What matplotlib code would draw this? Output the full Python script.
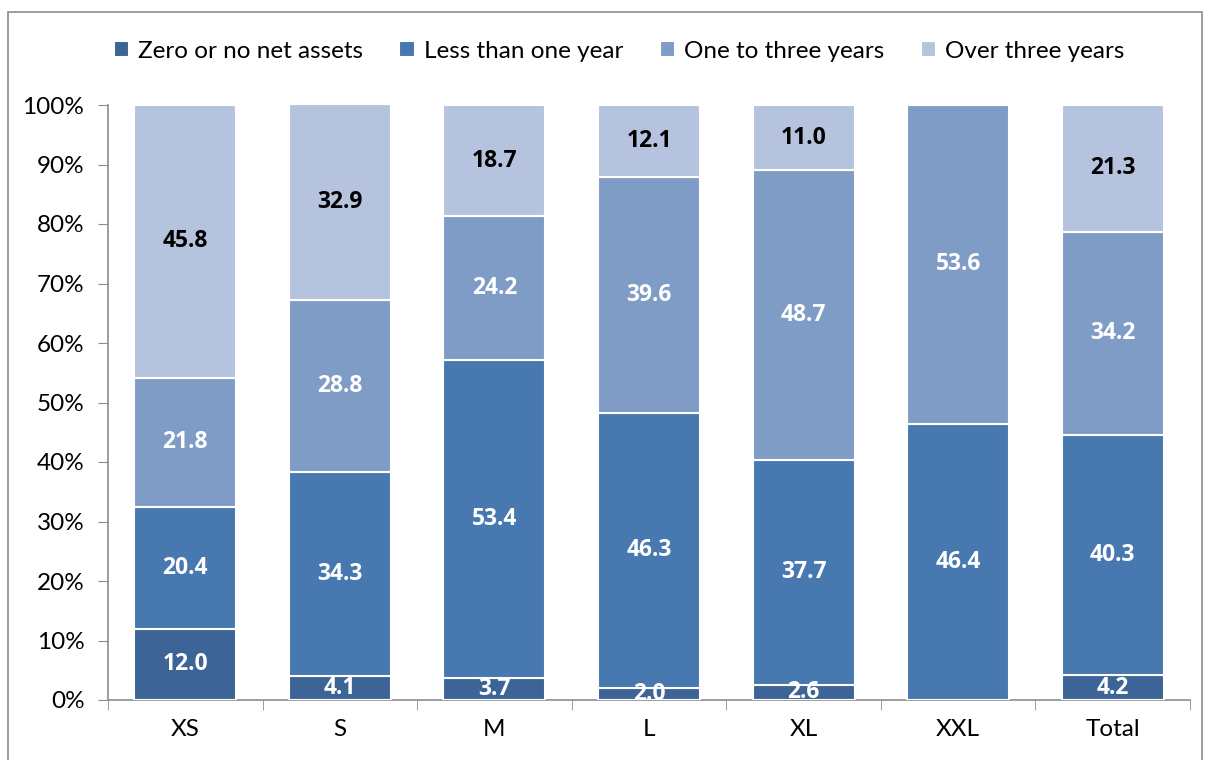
import numpy as np
import matplotlib.pyplot as plt
from matplotlib.patches import Rectangle

plt.rcParams['font.family'] = ['Lato', 'DejaVu Sans']

categories = ['XS', 'S', 'M', 'L', 'XL', 'XXL', 'Total']
series_names = ['Zero or no net assets', 'Less than one year',
                'One to three years', 'Over three years']
zero_assets = [12.0, 4.1, 3.7, 2.0, 2.6, 0.0, 4.2]
less_one_year = [20.4, 34.3, 53.4, 46.3, 37.7, 46.4, 40.3]
one_to_three = [21.8, 28.8, 24.2, 39.6, 48.7, 53.6, 34.2]
over_three = [45.8, 32.9, 18.7, 12.1, 11.0, 0.0, 21.3]

colors = ['#3c6496', '#4878b0', '#7f9cc7', '#b5c3de']
label_colors = ['white', 'white', 'white', 'black']

fig = plt.figure(figsize=(12.05, 7.6), dpi=100)
# outer chart border
fig.patches.append(Rectangle((8 / 1205, -0.01), 1194 / 1205, 1 - 12 / 760 + 0.01,
                             transform=fig.transFigure, fill=False,
                             edgecolor='#8c8c8c', linewidth=1.2))
ax = fig.add_axes([108 / 1205, 60 / 760, 1082 / 1205, 595 / 760])

x = np.arange(len(categories))
bottom = np.zeros(len(categories))
all_series = [zero_assets, less_one_year, one_to_three, over_three]
handles = []
for vals, name, col, lcol in zip(all_series, series_names, colors, label_colors):
    vals = np.array(vals)
    bars = ax.bar(x, vals, width=0.66, bottom=bottom, color=col,
                  edgecolor='white', linewidth=1.5, label=name, zorder=3)
    handles.append(bars)
    for xi, b, v in zip(x, bottom, vals):
        if v > 0:
            ax.text(xi, b + v / 2, f'{v:.1f}', ha='center', va='center',
                    color=lcol, fontsize=16.5, fontweight='bold',
                    family='Open Sans', zorder=4, clip_on=True)
    bottom = bottom + vals

ax.set_xlim(-0.5, len(categories) - 0.5)
ax.set_ylim(0, 100)
ax.set_yticks(np.arange(0, 101, 10))
ax.set_yticklabels([f'{v}%' for v in range(0, 101, 10)], fontsize=17.5)
ax.set_xticks(x)
ax.set_xticklabels(categories, fontsize=17.5)
ax.set_xticks(np.arange(-0.5, len(categories)), minor=True)
ax.tick_params(axis='x', which='major', length=0, pad=14)
ax.tick_params(axis='x', which='minor', length=7, color='#8c8c8c', direction='out')
ax.tick_params(axis='y', length=7, color='#8c8c8c', direction='out', pad=10)

for side in ['top', 'right']:
    ax.spines[side].set_visible(False)
for side in ['left', 'bottom']:
    ax.spines[side].set_color('#8c8c8c')
    ax.spines[side].set_linewidth(1.2)

fig.legend(handles=handles, labels=series_names, loc='center',
           bbox_to_anchor=(619 / 1205, 1 - 51 / 760), ncol=4, frameon=False,
           fontsize=17.5, handlelength=0.65, handleheight=0.65, handletextpad=0.35,
           columnspacing=1.5)

fig.savefig('out.png', dpi=100)
